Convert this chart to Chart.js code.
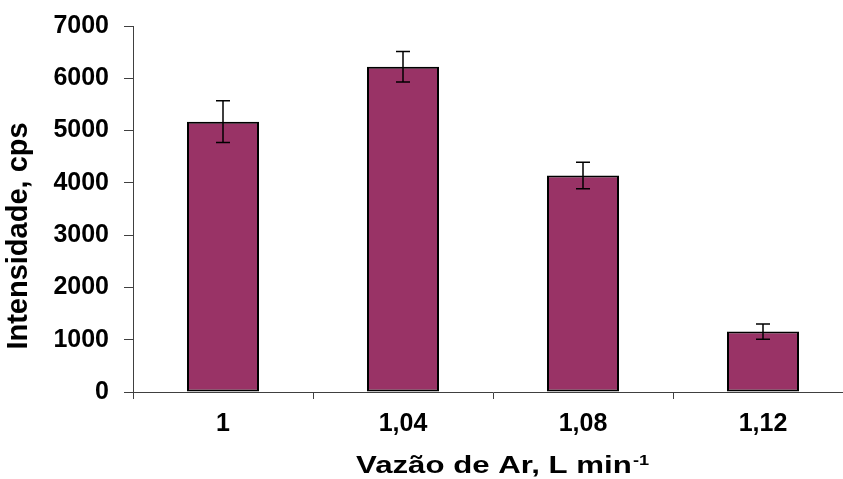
<!DOCTYPE html>
<html>
<head>
<meta charset="utf-8">
<script src="https://cdn.jsdelivr.net/npm/chart.js@4"></script>
<style>
  body { margin: 0; background: #fff; }
  #wrap { width: 843px; height: 479px; overflow: hidden; }
</style>
</head>
<body>
<div id="wrap"><canvas id="grafico" width="860" height="479"></canvas></div>
<script>
// dados
const vazao = ['1', '1,04', '1,08', '1,12'];
const intensidade = [5170, 6220, 4140, 1155];
const erro = [400, 290, 255, 145];
const yTicks = [0, 1000, 2000, 3000, 4000, 5000, 6000, 7000];

const fonte = '"Liberation Sans", Arial, sans-serif';

// barras de erro desenhadas a partir da escala y
const barrasErro = {
    id: 'barrasErro',
    afterDatasetsDraw(chart) {
        const { ctx, scales: { y } } = chart;
        const meta = chart.getDatasetMeta(0);
        ctx.save();
        ctx.strokeStyle = '#000';
        ctx.lineWidth = 1.5;
        meta.data.forEach((bar, i) => {
            const topo = y.getPixelForValue(intensidade[i] + erro[i]);
            const base = y.getPixelForValue(intensidade[i] - erro[i]);
            ctx.beginPath();
            ctx.moveTo(bar.x, topo); ctx.lineTo(bar.x, base);
            ctx.moveTo(bar.x - 7, topo); ctx.lineTo(bar.x + 7, topo);
            ctx.moveTo(bar.x - 7, base); ctx.lineTo(bar.x + 7, base);
            ctx.stroke();
        });
        ctx.restore();
    }
};

// títulos dos eixos (o do x tem expoente: min-1)
const titulos = {
    id: 'titulos',
    afterDraw(chart) {
        const { ctx, chartArea } = chart;
        ctx.save();
        ctx.fillStyle = '#000';

        // eixo y, girado
        ctx.save();
        ctx.translate(19, (chartArea.top + chartArea.bottom) / 2 + 27);
        ctx.rotate(-Math.PI / 2);
        ctx.textAlign = 'center';
        ctx.textBaseline = 'middle';
        ctx.font = 'bold 29px ' + fonte;
        ctx.fillText('Intensidade, cps', 0, 0);
        ctx.restore();

        // eixo x
        const texto = 'Vazão de Ar, L min';
        const expoente = '-1';
        const sx = 1.3;
        ctx.textBaseline = 'alphabetic';
        ctx.textAlign = 'left';
        ctx.font = 'bold 24px ' + fonte;
        const w1 = ctx.measureText(texto).width;
        ctx.font = 'bold 14px ' + fonte;
        const w2 = ctx.measureText(expoente).width;
        const x0 = (chartArea.left + chartArea.right) / 2 + 9 - (w1 + w2) * sx / 2;
        ctx.translate(x0, 473);
        ctx.scale(sx, 1);
        ctx.font = 'bold 24px ' + fonte;
        ctx.fillText(texto, 0, 0);
        ctx.font = 'bold 14px ' + fonte;
        ctx.fillText(expoente, w1 + 1, -8);
        ctx.restore();
    }
};

new Chart(document.getElementById('grafico'), {
    type: 'bar',
    data: {
        labels: vazao,
        datasets: [{
            label: 'Intensidade',
            data: intensidade,
            backgroundColor: '#993366',
            borderColor: '#000',
            borderWidth: 2,
            borderSkipped: false,
            barPercentage: 0.4,
            categoryPercentage: 1
        }]
    },
    options: {
        responsive: false,
        animation: false,
        layout: { padding: { top: 26, right: 7, left: 0, bottom: 0 } },
        plugins: {
            legend: { display: false },
            tooltip: { enabled: false }
        },
        scales: {
            x: {
                afterFit: (scale) => { scale.height = 87; },
                grid: { drawOnChartArea: false, tickLength: 7, color: '#404040', offset: true },
                border: { color: '#404040', width: 1 },
                ticks: { color: '#000', padding: 10, font: { family: fonte, size: 25, weight: 'bold' } }
            },
            y: {
                min: 0,
                max: 7000,
                afterFit: (scale) => {
                    scale.width = 133;
                    // o topo da área fica a cargo do padding do layout
                    scale.paddingTop = 0;
                    scale.paddingBottom = 0;
                },
                afterBuildTicks: (scale) => { scale.ticks = yTicks.map(v => ({ value: v })); },
                grid: { drawOnChartArea: false, tickLength: 9, color: '#404040' },
                border: { color: '#404040', width: 1 },
                ticks: {
                    color: '#000',
                    padding: 15,
                    font: { family: fonte, size: 25, weight: 'bold' },
                    callback: (v) => String(v)
                }
            }
        }
    },
    plugins: [barrasErro, titulos]
});
</script>
</body>
</html>
